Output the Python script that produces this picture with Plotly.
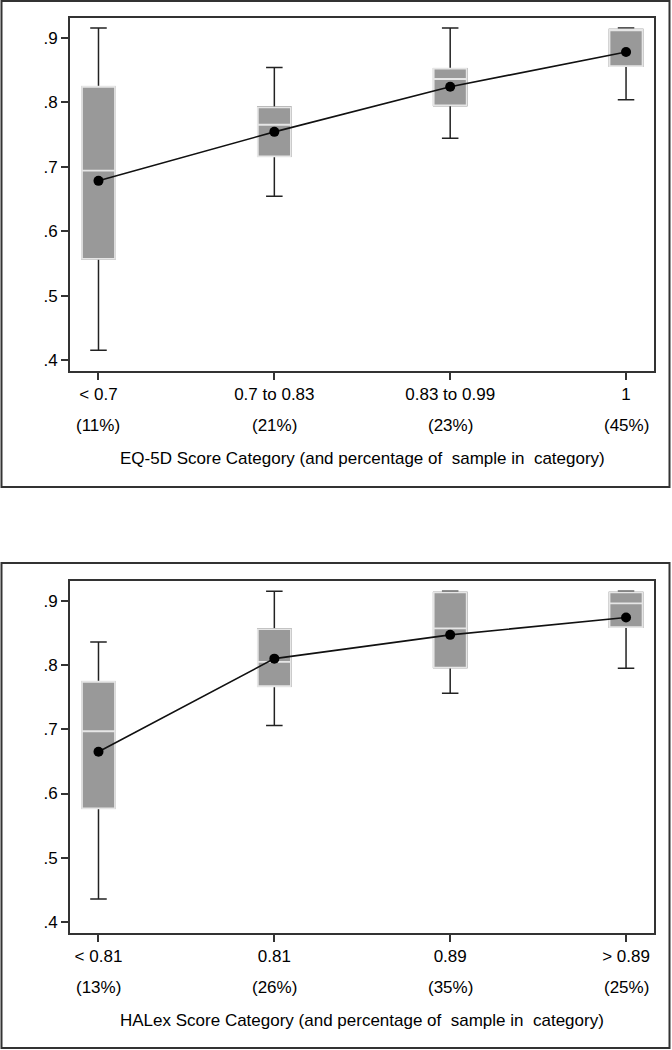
import plotly.graph_objects as go

W, H = 672, 1050

# ---------------- Data ----------------
eq_categories = ["< 0.7", "0.7 to 0.83", "0.83 to 0.99", "1"]
eq_percent = ["(11%)", "(21%)", "(23%)", "(45%)"]
eq_whisker_lo = [0.415, 0.654, 0.744, 0.804]
eq_q1 = [0.557, 0.716, 0.795, 0.856]
eq_median = [0.694, 0.765, 0.836, 0.913]
eq_q3 = [0.824, 0.792, 0.852, 0.913]
eq_whisker_hi = [0.915, 0.854, 0.915, 0.915]
eq_mean = [0.678, 0.754, 0.824, 0.878]
eq_title = "EQ-5D Score Category (and percentage of \u00a0sample in \u00a0category)"

hx_categories = ["< 0.81", "0.81", "0.89", "> 0.89"]
hx_percent = ["(13%)", "(26%)", "(35%)", "(25%)"]
hx_whisker_lo = [0.436, 0.706, 0.756, 0.795]
hx_q1 = [0.577, 0.767, 0.796, 0.859]
hx_median = [0.697, 0.805, 0.857, 0.896]
hx_q3 = [0.774, 0.856, 0.913, 0.913]
hx_whisker_hi = [0.836, 0.915, 0.915, 0.915]
hx_mean = [0.665, 0.810, 0.847, 0.874]
hx_title = "HALex Score Category (and percentage of \u00a0sample in \u00a0category)"

y_ticks = [0.4, 0.5, 0.6, 0.7, 0.8, 0.9]
y_ticktext = ["." + str(int(round(v * 10))) for v in y_ticks]

# ---------------- Styles ----------------
FONT = "Arial, Liberation Sans, sans-serif"
FS = 17
BOX_FILL = "#999999"
BOX_EDGE = "#e6e6e6"
DARK = "#222222"
FRAME = "#333333"

fig = go.Figure()

panels = [
    dict(cats=eq_categories, pct=eq_percent, lo=eq_whisker_lo, q1=eq_q1, med=eq_median,
         q3=eq_q3, hi=eq_whisker_hi, mean=eq_mean, title=eq_title, xa="x", ya="y",
         top_px=17.6, bot_px=370.7, border=(1, 487)),
    dict(cats=hx_categories, pct=hx_percent, lo=hx_whisker_lo, q1=hx_q1, med=hx_median,
         q3=hx_q3, hi=hx_whisker_hi, mean=hx_mean, title=hx_title, xa="x2", ya="y2",
         top_px=580.7, bot_px=932.7, border=(563, 1048)),
]

annotations = []
shapes = []
for p in panels:
    xs = list(range(len(p["cats"])))
    # Box with dark whiskers and caps
    fig.add_trace(go.Box(
        x=xs, q1=p["q1"], median=p["med"], q3=p["q3"],
        lowerfence=p["lo"], upperfence=p["hi"],
        width=0.188, whiskerwidth=0.5, boxpoints=False,
        fillcolor=BOX_FILL, line=dict(color=DARK, width=1.5),
        xaxis=p["xa"], yaxis=p["ya"], showlegend=False, hoverinfo="skip",
    ))
    # Light box outline and white median drawn over it
    fig.add_trace(go.Box(
        x=xs, q1=p["q1"], median=p["med"], q3=p["q3"],
        lowerfence=p["q1"], upperfence=p["q3"],
        width=0.188, whiskerwidth=0, boxpoints=False,
        fillcolor=BOX_FILL, line=dict(color=BOX_EDGE, width=1.8),
        xaxis=p["xa"], yaxis=p["ya"], showlegend=False, hoverinfo="skip",
    ))
    # Means connected
    fig.add_trace(go.Scatter(
        x=xs, y=p["mean"], mode="lines+markers",
        line=dict(color="#111111", width=1.6),
        marker=dict(color="#000000", size=10),
        xaxis=p["xa"], yaxis=p["ya"], showlegend=False, hoverinfo="skip",
    ))
    # Percent row and axis title
    pct_y = 1 - (p["bot_px"] + 55) / H
    for i, t in enumerate(p["pct"]):
        annotations.append(dict(x=i, y=pct_y, xref=p["xa"], yref="paper", text=t,
                                showarrow=False, xanchor="center", yanchor="middle",
                                font=dict(family=FONT, size=FS, color="#000")))
    annotations.append(dict(x=362 / W, y=1 - (p["bot_px"] + 88) / H, xref="paper", yref="paper",
                            text=p["title"], showarrow=False, xanchor="center",
                            yanchor="middle", font=dict(family=FONT, size=FS, color="#000")))
    b0, b1 = p["border"]
    shapes.append(dict(type="rect", xref="paper", yref="paper",
                       x0=1.5 / W, x1=669.5 / W, y0=1 - b1 / H, y1=1 - b0 / H,
                       line=dict(color=FRAME, width=2), fillcolor="rgba(0,0,0,0)"))

axis_common = dict(showline=True, mirror=True, linecolor=FRAME, linewidth=1.6,
                   ticks="outside", ticklen=7, tickwidth=1.5, tickcolor=FRAME,
                   showgrid=False, zeroline=False,
                   tickfont=dict(family=FONT, size=FS, color="#000"))

xdom = [70 / W, 654 / W]
layout_axes = {}
for idx, p in enumerate(panels):
    sfx = "" if idx == 0 else "2"
    layout_axes["xaxis" + sfx] = dict(
        axis_common, domain=xdom, range=[-0.162, 3.159],
        tickvals=list(range(len(p["cats"]))), ticktext=p["cats"],
        anchor="y" + sfx,
    )
    layout_axes["yaxis" + sfx] = dict(
        axis_common, domain=[1 - p["bot_px"] / H, 1 - p["top_px"] / H],
        range=[0.3834, 0.9313], tickvals=y_ticks, ticktext=y_ticktext,
        anchor="x" + sfx,
    )

fig.update_layout(
    width=W, height=H,
    margin=dict(l=0, r=0, t=0, b=0),
    paper_bgcolor="white", plot_bgcolor="white",
    boxmode="overlay",
    annotations=annotations, shapes=shapes,
    **layout_axes,
)

fig.write_html(
    "out.html",
    config={"displayModeBar": False},
    post_script="document.body.style.margin='0';document.body.style.overflow='hidden';",
)
